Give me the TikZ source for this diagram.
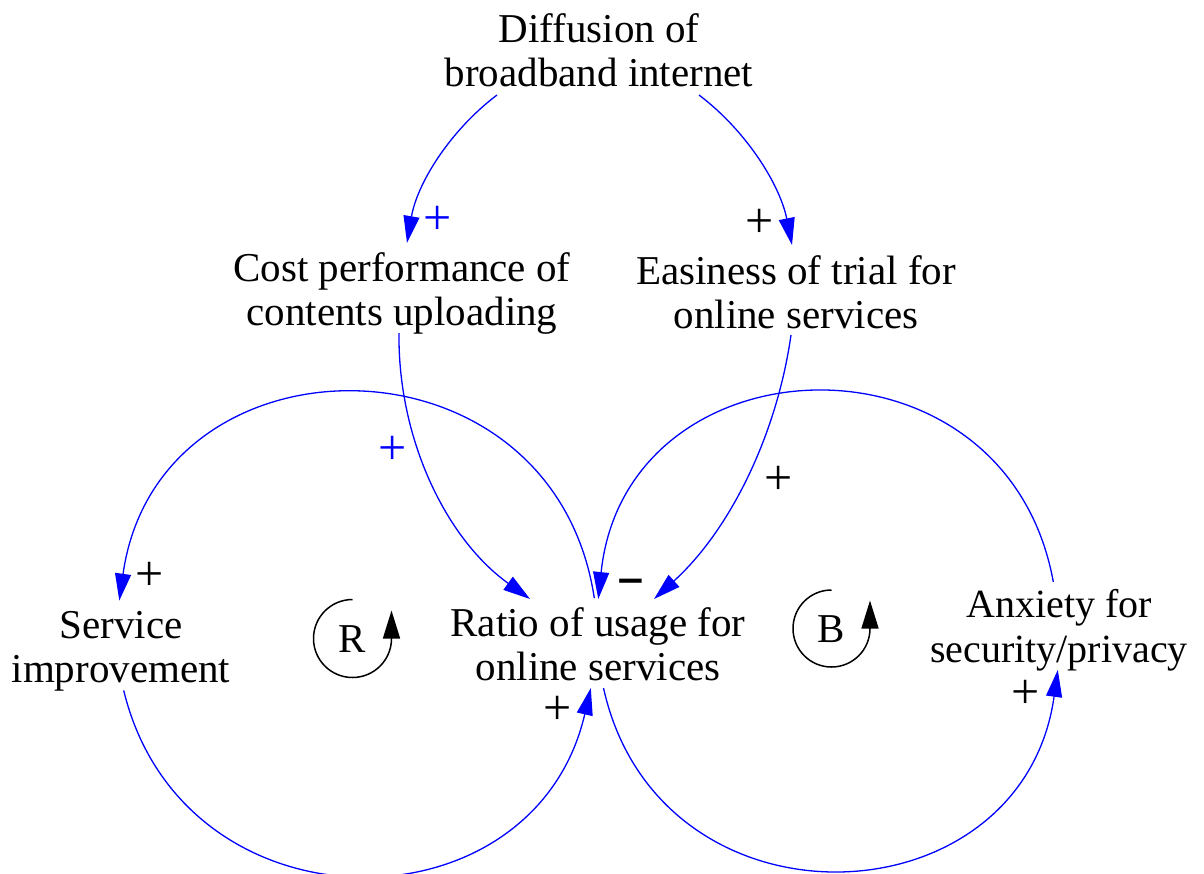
\documentclass[tikz,border=0pt]{standalone}
\usepackage{fontspec}
\setmainfont{Liberation Serif}
\usetikzlibrary{arrows.meta}

\definecolor{linkblue}{RGB}{0,0,255}

\tikzset{
  var/.style={align=center, inner sep=0pt, font=\fontsize{41pt}{43.5pt}\selectfont},
  link/.style={draw=linkblue, line width=1.3pt, -{Triangle[length=27pt,width=16pt]}, fill=none},
  polblue/.style={text=linkblue, inner sep=0pt, font=\fontsize{50pt}{50pt}\selectfont},
  polblack/.style={text=black, inner sep=0pt, font=\fontsize{50pt}{50pt}\selectfont},
  loopsym/.style={draw=black, line width=1.5pt, -{Triangle[length=28pt,width=17pt]}},
  looplabel/.style={inner sep=0pt, font=\fontsize{41pt}{43.5pt}\selectfont}
}

\begin{document}
\begin{tikzpicture}[x=1pt, y=-1pt]
\useasboundingbox (0,0) rectangle (1204,873);

% variables
\node[var] (diffusion) at (599,50.5) {Diffusion of\\broadband internet};
\node[var] (cost)      at (402,293.5) {Cost performance of\\contents uploading};
\node[var] (easiness)  at (796,292.5) {Easiness of trial for\\online services};
\node[var] (service)   at (121,651.5) {Service\\improvement};
\node[var] (ratio)     at (598,644.5) {Ratio of usage for\\online services};
\node[var, font=\fontsize{40pt}{45pt}\selectfont] (anxiety) at (1059,630) {Anxiety for\\security/privacy};

% end points of the links on the variables
\coordinate (diffusion-sw) at (497,95);
\coordinate (diffusion-se) at (699,95);
\coordinate (cost-n)       at (407,243);
\coordinate (cost-s)       at (399,333);
\coordinate (easiness-n)   at (792,245);
\coordinate (easiness-s)   at (791,335);
\coordinate (ratio-nw)     at (530,599);
\coordinate (ratio-ne)     at (654,599);
\coordinate (ratio-n1)     at (594.3,598.1);
\coordinate (ratio-n2)     at (598.3,599.0);
\coordinate (ratio-s1)     at (590.8,688.0);
\coordinate (ratio-s2)     at (603.5,688.0);
\coordinate (service-n)    at (119.3,600.6);
\coordinate (service-s)    at (123.7,690.4);
\coordinate (anxiety-n)    at (1053.3,581.9);
\coordinate (anxiety-s)    at (1057.8,669.9);

% causal links
\draw[link] (diffusion-sw) .. controls (449.3,131.1) and (417,184) .. (cost-n);
\draw[link] (diffusion-se) .. controls (746.7,131.1) and (780,185) .. (easiness-n);
\draw[link] (cost-s) .. controls (397.7,437.4) and (445.2,538.1) .. (ratio-nw);
\draw[link] (easiness-s) .. controls (776.6,435.9) and (729.5,530.6) .. (ratio-ne);
% reinforcing loop
\draw[link] (ratio-n1) .. controls (552.9,324.6) and (157.8,326.7) .. (service-n);
\draw[link] (service-s) .. controls (183.2,936.4) and (533.9,934.6) .. (ratio-s1);
% balancing loop
\draw[link] (anxiety-n) .. controls (1005.8,320.4) and (626.1,334.7) .. (ratio-n2);
\draw[link] (ratio-s2) .. controls (659.2,939.2) and (1022.2,924.7) .. (anxiety-s);

% polarities
\node[polblue]  (p1) at (437.7,220.7) {+};
\node[polblack] (p2) at (760,223.3) {+};
\node[polblue]  (p3) at (392.3,450) {+};
\node[polblack] (p4) at (778.3,480) {+};
\node[polblack] (p5) at (149.3,576) {+};
\node[polblack] (p6) at (557.3,710.7) {+};
\node[polblack] (p7) at (1026,694) {+};
\node[inner sep=0pt, font=\fontsize{48pt}{48pt}\selectfont\bfseries] (p8) at (630.5,586) {\scalebox{1.8}[1]{-}};

% loop identifiers
\node[looplabel] (loopR) at (352.5,639.5) {R};
\draw[loopsym] (352.5,599.5) arc[start angle=-90, end angle=-360, radius=39] -- ++(0,-28);
\node[looplabel] (loopB) at (831.5,629.5) {B};
\draw[loopsym] (831.5,590) arc[start angle=-90, end angle=-360, radius=38.5] -- ++(0,-28);
\end{tikzpicture}
\end{document}
